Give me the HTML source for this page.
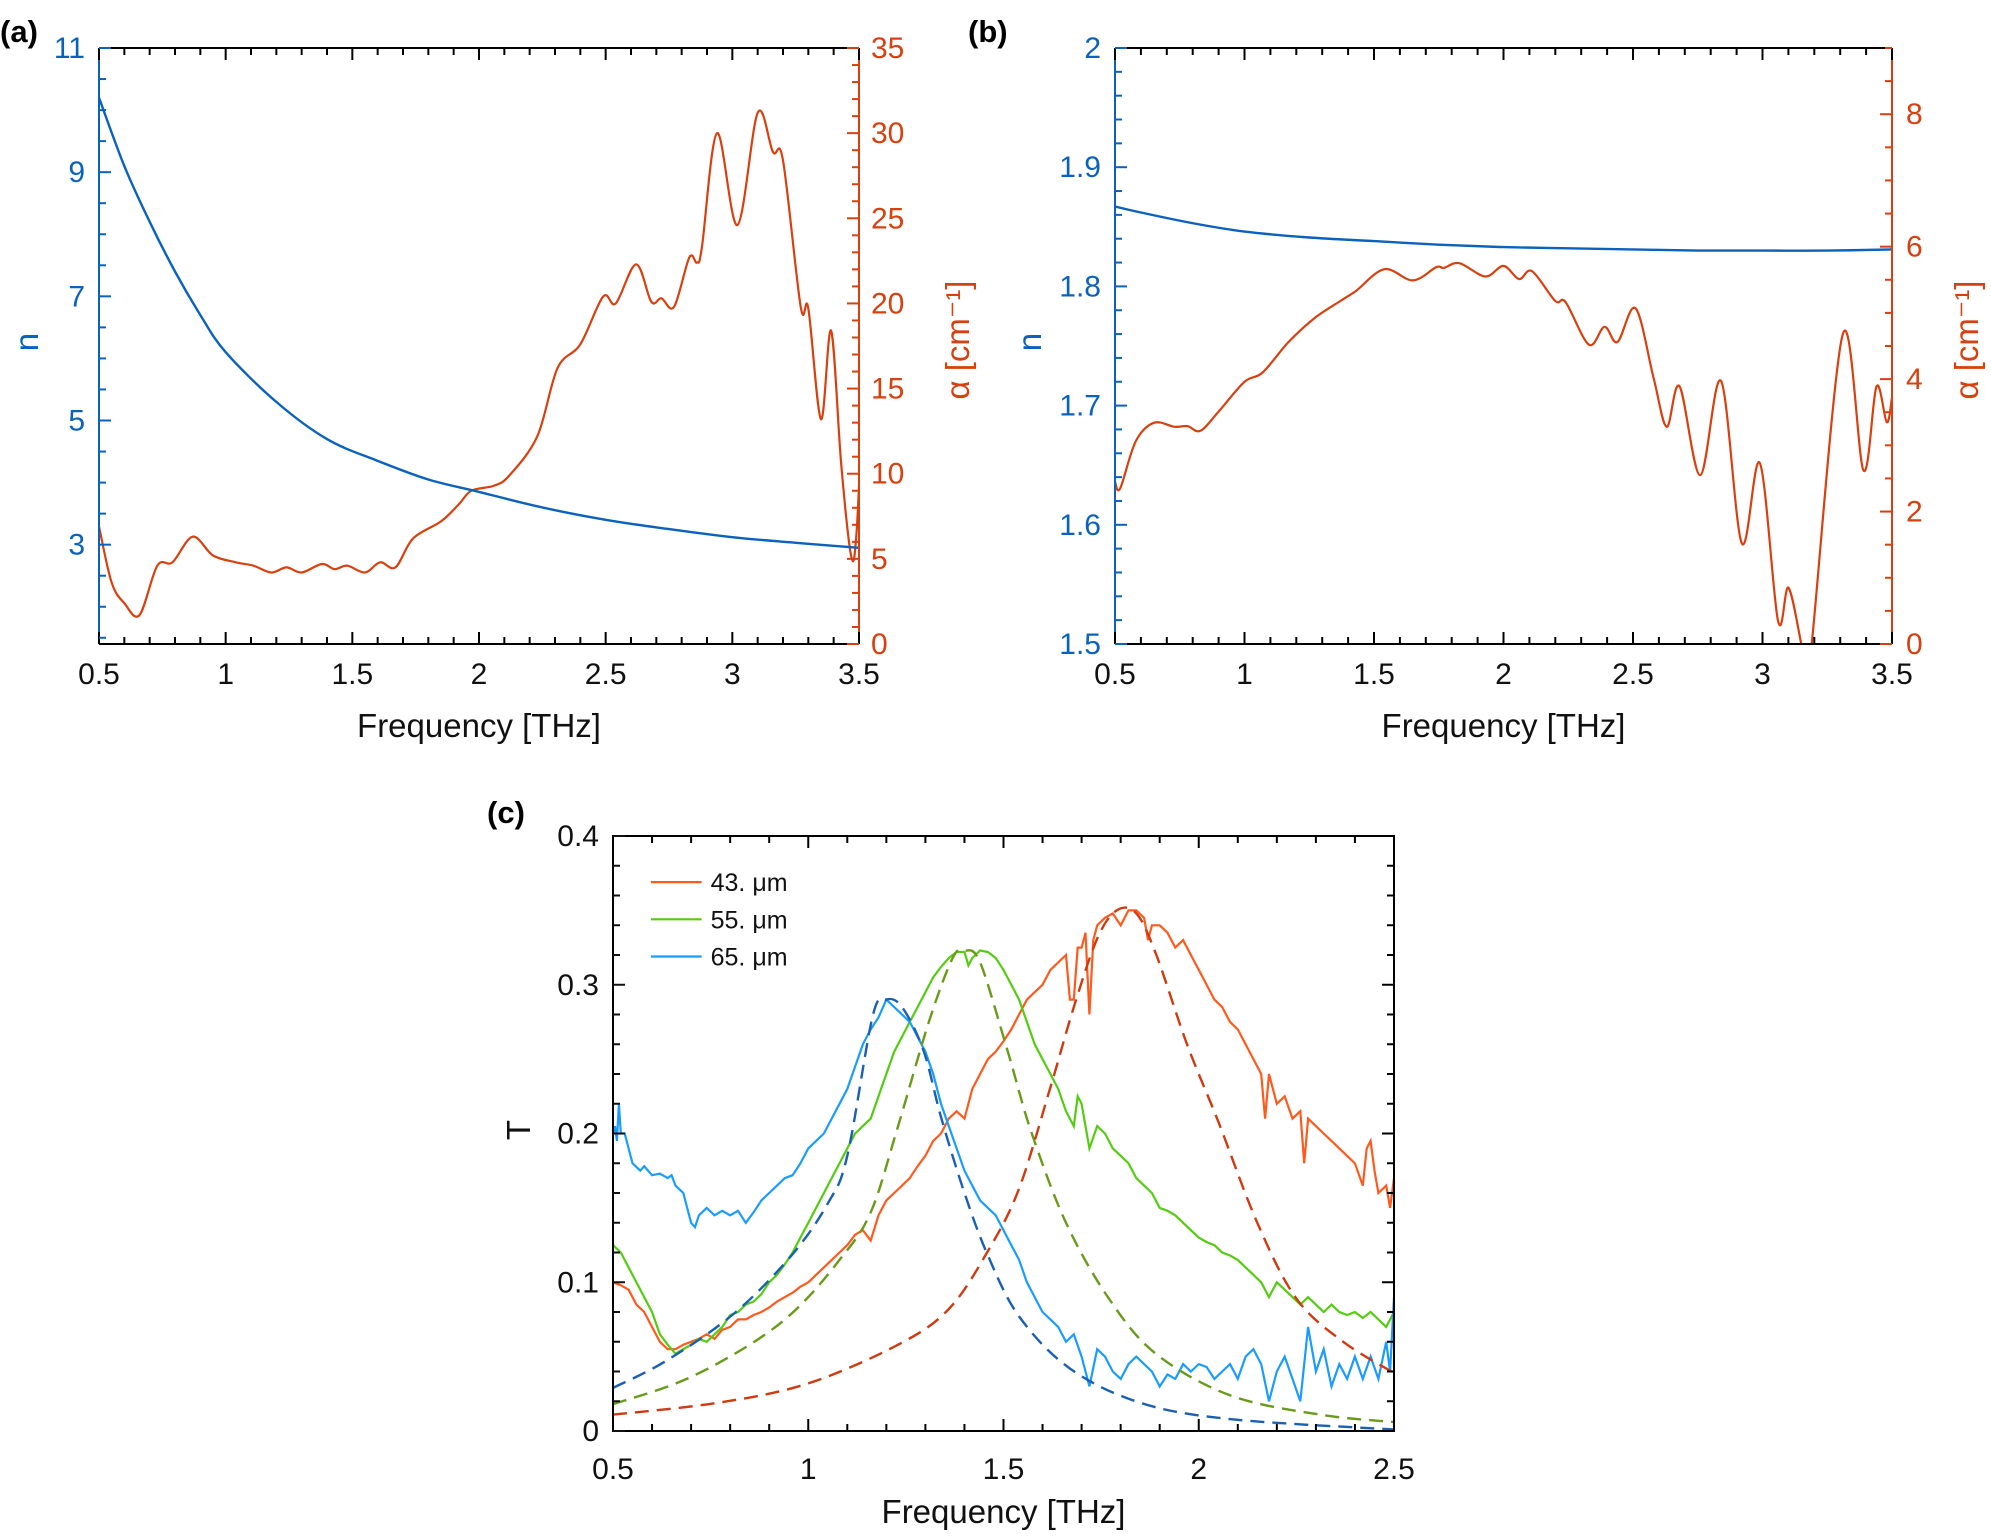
<!DOCTYPE html>
<html><head><meta charset="utf-8"><style>
body{margin:0;background:#fff}
svg text{font-family:"Liberation Sans",sans-serif}
</style></head><body>
<svg id="fig" width="1991" height="1534" viewBox="0 0 1991 1534" xmlns="http://www.w3.org/2000/svg">
<defs>
<clipPath id="clipA"><rect x="99" y="48" width="760" height="596"/></clipPath>
<clipPath id="clipB"><rect x="1115" y="48" width="777" height="596"/></clipPath>
<clipPath id="clipC"><rect x="613" y="836" width="781" height="595"/></clipPath>
</defs>
</svg>
<script>
// ---------- Panel (a) data ----------
const aNFreq=[0.5,0.6,0.7,0.8,0.9,1.0,1.2,1.4,1.6,1.8,2.0,2.25,2.5,2.75,3.0,3.25,3.5];
const aNVal=[10.2,9.1,8.2,7.4,6.7,6.1,5.3,4.7,4.35,4.05,3.85,3.6,3.4,3.25,3.12,3.03,2.95];
const aAFreq=[0.5,0.55,0.6,0.66,0.73,0.79,0.87,0.95,1.04,1.11,1.18,1.24,1.3,1.38,1.43,1.48,1.55,1.61,1.67,1.74,1.85,1.92,1.97,2.06,2.12,2.23,2.31,2.4,2.49,2.54,2.62,2.68,2.72,2.77,2.83,2.86,2.88,2.94,3.02,3.1,3.16,3.2,3.27,3.3,3.35,3.39,3.43,3.47,3.49,3.51];
const aAVal=[6.9,3.6,2.4,1.7,4.6,4.8,6.3,5.2,4.8,4.6,4.2,4.5,4.2,4.7,4.4,4.6,4.2,4.8,4.5,6.2,7.2,8.2,9.0,9.3,9.9,12.2,16.2,17.6,20.4,20.0,22.3,20.1,20.3,19.8,22.7,22.4,23.3,30.0,24.6,31.2,28.9,28.4,19.8,19.7,13.2,18.4,10.5,5.1,6.5,12.7];
const aXTicks=[0.5,1,1.5,2,2.5,3,3.5];
const aNTicks=[3,5,7,9,11];
const aATicks=[0,5,10,15,20,25,30,35];
// ---------- Panel (b) data ----------
const bNFreq=[0.5,0.6,0.8,1.0,1.25,1.5,1.75,2.0,2.25,2.5,2.75,3.0,3.25,3.5];
const bNVal=[1.867,1.862,1.853,1.846,1.841,1.838,1.835,1.833,1.832,1.831,1.830,1.830,1.830,1.831];
const bAFreq=[0.5,0.52,0.58,0.65,0.73,0.78,0.83,0.9,1.0,1.07,1.17,1.27,1.37,1.43,1.54,1.65,1.74,1.77,1.83,1.93,2.0,2.06,2.11,2.2,2.24,2.33,2.39,2.44,2.51,2.58,2.63,2.68,2.76,2.84,2.92,2.99,3.06,3.1,3.15,3.17,3.19,3.31,3.39,3.44,3.48,3.5];
const bAVal=[2.45,2.35,3.06,3.34,3.28,3.29,3.22,3.51,3.96,4.1,4.56,4.92,5.18,5.33,5.66,5.49,5.69,5.68,5.75,5.55,5.71,5.51,5.63,5.18,5.16,4.52,4.79,4.56,5.07,4.01,3.28,3.89,2.55,3.97,1.52,2.73,0.35,0.85,0,-0.4,0,4.68,2.62,3.89,3.35,3.72];
const bXTicks=[0.5,1,1.5,2,2.5,3,3.5];
const bNTicks=[1.5,1.6,1.7,1.8,1.9,2];
const bATicks=[0,2,4,6,8];
// ---------- Panel (c) data ----------
const cBlueF=[0.5,0.505,0.51,0.515,0.52,0.53,0.54,0.55,0.57,0.58,0.6,0.62,0.64,0.65,0.66,0.68,0.69,0.7,0.71,0.72,0.74,0.76,0.78,0.8,0.82,0.84,0.86,0.88,0.9,0.92,0.94,0.96,0.98,1.0,1.02,1.04,1.06,1.08,1.1,1.12,1.14,1.16,1.18,1.2,1.22,1.24,1.26,1.28,1.3,1.32,1.34,1.36,1.38,1.4,1.42,1.44,1.46,1.48,1.5,1.52,1.54,1.56,1.58,1.6,1.62,1.64,1.66,1.68,1.7,1.72,1.74,1.76,1.78,1.8,1.82,1.84,1.86,1.88,1.9,1.92,1.94,1.96,1.98,2.0,2.02,2.04,2.06,2.08,2.1,2.12,2.14,2.16,2.18,2.2,2.22,2.24,2.26,2.28,2.3,2.32,2.34,2.36,2.38,2.4,2.42,2.44,2.46,2.48,2.49,2.5];
const cBlueT=[0.2,0.205,0.195,0.22,0.2,0.2,0.19,0.18,0.175,0.178,0.172,0.173,0.17,0.172,0.165,0.16,0.15,0.14,0.137,0.145,0.15,0.145,0.148,0.145,0.148,0.14,0.147,0.155,0.16,0.165,0.17,0.172,0.18,0.19,0.195,0.2,0.21,0.22,0.23,0.245,0.26,0.27,0.278,0.29,0.285,0.28,0.275,0.265,0.255,0.24,0.22,0.205,0.19,0.175,0.165,0.155,0.15,0.145,0.135,0.125,0.115,0.1,0.09,0.08,0.075,0.07,0.06,0.065,0.05,0.03,0.055,0.05,0.04,0.035,0.045,0.05,0.045,0.04,0.03,0.038,0.035,0.045,0.04,0.045,0.043,0.035,0.04,0.045,0.035,0.05,0.055,0.045,0.02,0.04,0.05,0.035,0.02,0.07,0.04,0.055,0.03,0.045,0.035,0.05,0.035,0.05,0.035,0.06,0.04,0.09];
const cGreenF=[0.5,0.52,0.54,0.56,0.58,0.6,0.62,0.64,0.66,0.68,0.7,0.72,0.74,0.76,0.78,0.8,0.82,0.84,0.86,0.88,0.9,0.92,0.94,0.96,0.98,1.0,1.02,1.04,1.06,1.08,1.1,1.12,1.14,1.16,1.18,1.2,1.22,1.24,1.26,1.28,1.3,1.32,1.34,1.36,1.38,1.4,1.41,1.42,1.44,1.46,1.48,1.5,1.52,1.54,1.56,1.58,1.6,1.62,1.64,1.66,1.68,1.69,1.7,1.72,1.74,1.76,1.78,1.8,1.82,1.84,1.86,1.88,1.9,1.92,1.94,1.96,1.98,2.0,2.02,2.04,2.06,2.08,2.1,2.12,2.14,2.16,2.18,2.2,2.22,2.24,2.26,2.28,2.3,2.32,2.34,2.36,2.38,2.4,2.42,2.44,2.46,2.48,2.5];
const cGreenT=[0.125,0.12,0.11,0.1,0.09,0.08,0.065,0.058,0.052,0.055,0.058,0.062,0.06,0.065,0.07,0.078,0.08,0.085,0.087,0.092,0.1,0.105,0.112,0.12,0.13,0.14,0.15,0.16,0.17,0.18,0.19,0.2,0.205,0.21,0.225,0.24,0.255,0.265,0.275,0.285,0.295,0.305,0.312,0.318,0.322,0.322,0.313,0.318,0.323,0.322,0.318,0.31,0.3,0.29,0.275,0.26,0.25,0.24,0.23,0.215,0.205,0.225,0.22,0.19,0.205,0.2,0.19,0.185,0.18,0.17,0.165,0.16,0.15,0.148,0.145,0.14,0.135,0.13,0.127,0.125,0.12,0.118,0.115,0.11,0.105,0.1,0.09,0.1,0.095,0.09,0.085,0.09,0.085,0.08,0.085,0.08,0.078,0.08,0.076,0.08,0.075,0.07,0.08];
const cRedF=[0.5,0.52,0.54,0.56,0.58,0.6,0.62,0.64,0.66,0.68,0.7,0.72,0.74,0.76,0.78,0.8,0.82,0.84,0.86,0.88,0.9,0.92,0.94,0.96,0.98,1.0,1.02,1.04,1.06,1.08,1.1,1.12,1.14,1.16,1.18,1.2,1.22,1.24,1.26,1.28,1.3,1.32,1.34,1.36,1.38,1.4,1.42,1.44,1.46,1.48,1.5,1.52,1.54,1.56,1.58,1.6,1.62,1.64,1.66,1.67,1.68,1.69,1.7,1.71,1.72,1.73,1.74,1.76,1.78,1.8,1.82,1.84,1.86,1.87,1.88,1.9,1.92,1.94,1.96,1.98,2.0,2.02,2.04,2.06,2.08,2.1,2.12,2.14,2.16,2.17,2.18,2.2,2.22,2.24,2.26,2.27,2.28,2.3,2.32,2.34,2.36,2.38,2.4,2.42,2.43,2.44,2.45,2.46,2.48,2.49,2.5];
const cRedT=[0.1,0.098,0.095,0.085,0.08,0.07,0.06,0.055,0.055,0.058,0.06,0.062,0.065,0.062,0.068,0.07,0.075,0.075,0.078,0.08,0.083,0.087,0.09,0.093,0.097,0.1,0.105,0.11,0.115,0.12,0.125,0.132,0.135,0.128,0.145,0.155,0.16,0.165,0.17,0.178,0.185,0.195,0.2,0.21,0.215,0.21,0.23,0.24,0.25,0.255,0.262,0.27,0.28,0.29,0.295,0.3,0.31,0.315,0.32,0.29,0.29,0.325,0.325,0.335,0.28,0.33,0.34,0.345,0.348,0.34,0.35,0.35,0.345,0.33,0.34,0.34,0.335,0.325,0.33,0.32,0.31,0.3,0.29,0.285,0.275,0.27,0.26,0.25,0.24,0.21,0.24,0.22,0.225,0.21,0.215,0.18,0.21,0.205,0.2,0.195,0.19,0.185,0.18,0.165,0.19,0.195,0.175,0.16,0.165,0.15,0.17];
const cBlueFitF=[0.5,0.635,0.81,0.957,1.05,1.1,1.165,1.2,1.24,1.295,1.34,1.4,1.46,1.54,1.67,1.85,2.08,2.5];
const cBlueFitT=[0.029,0.047,0.079,0.118,0.153,0.185,0.279,0.29,0.285,0.256,0.211,0.16,0.118,0.077,0.042,0.019,0.008,0.001];
const cGreenFitF=[0.5,0.68,0.85,0.97,1.08,1.16,1.23,1.31,1.37,1.4,1.44,1.51,1.57,1.66,1.77,1.89,2.08,2.31,2.5];
const cGreenFitT=[0.018,0.034,0.058,0.082,0.115,0.147,0.205,0.276,0.318,0.323,0.315,0.256,0.202,0.14,0.089,0.052,0.024,0.011,0.006];
const cRedFitF=[0.5,0.77,1.0,1.23,1.36,1.46,1.54,1.62,1.68,1.74,1.79,1.84,1.89,1.97,2.05,2.15,2.25,2.37,2.5];
const cRedFitT=[0.011,0.019,0.032,0.058,0.082,0.121,0.163,0.231,0.285,0.331,0.35,0.348,0.321,0.26,0.208,0.14,0.089,0.06,0.039];
const cXTicks=[0.5,1,1.5,2,2.5];
const cYTicks=[0,0.1,0.2,0.3,0.4];
const cLegend=["43. μm","55. μm","65. μm"];

const svg=document.getElementById('fig');
const NS='http://www.w3.org/2000/svg';
function mk(tag,attrs,parent){const e=document.createElementNS(NS,tag);for(const k in attrs)e.setAttribute(k,attrs[k]);(parent||svg).appendChild(e);return e;}
function lin(d0,d1,r0,r1){return v=>r0+(v-d0)/(d1-d0)*(r1-r0);}
function pathD(xs,ys,sx,sy){return xs.map((x,i)=>(i?'L':'M')+sx(x).toFixed(1)+','+sy(ys[i]).toFixed(1)).join('');}
function smoothD(xs,ys,sx,sy){
  const P=xs.map((x,i)=>[sx(x),sy(ys[i])]);
  let d='M'+P[0][0].toFixed(1)+','+P[0][1].toFixed(1);
  for(let i=0;i<P.length-1;i++){
    const p0=P[i-1]||P[i],p1=P[i],p2=P[i+1],p3=P[i+2]||P[i+1];
    const c1=[p1[0]+(p2[0]-p0[0])/6,p1[1]+(p2[1]-p0[1])/6];
    const c2=[p2[0]-(p3[0]-p1[0])/6,p2[1]-(p3[1]-p1[1])/6];
    d+='C'+c1.map(v=>v.toFixed(1)).join(',')+' '+c2.map(v=>v.toFixed(1)).join(',')+' '+p2[0].toFixed(1)+','+p2[1].toFixed(1);
  }
  return d;
}
function txt(s,x,y,size,fill,anchor,parent){const t=mk('text',{x:x,y:y,'font-size':size,fill:fill,'text-anchor':anchor||'middle'},parent);t.textContent=s;return t;}

function xAxis(g,sx,L,R,T,B,ticks,minorStep,d0,d1,labY){
  for(let v=d0;v<=d1+1e-9;v+=minorStep){const x=sx(v);
    const major=ticks.some(t=>Math.abs(t-v)<1e-6);const len=major?12:7;
    mk('line',{x1:x,y1:B,x2:x,y2:B-len,stroke:'#000','stroke-width':2},g);
    mk('line',{x1:x,y1:T,x2:x,y2:T+len,stroke:'#000','stroke-width':2},g);}
  ticks.forEach(t=>{const l=txt(String(t),sx(t),labY,30,'#111','middle',g);
    
    });
}
function yAxis(g,sy,X,side,ticks,minorStep,d0,d1,color,fmt,labOff){
  const dir=side==='left'?1:-1;
  for(let v=d0;v<=d1+1e-9;v+=minorStep){const y=sy(v);
    const major=ticks.some(t=>Math.abs(t-v)<1e-6);const len=major?12:7;
    mk('line',{x1:X,y1:y,x2:X+dir*len,y2:y,stroke:color,'stroke-width':2},g);}
  ticks.forEach(t=>{const l=txt(fmt(t),X-dir*labOff,sy(t)+10,30,color,side==='left'?'end':'start',g);
    
    });
}

// ---------- Panel a ----------
(function(){
  const L=99,R=859,T=48,B=644;
  const g=mk('g',{});
  
  
  const sx=lin(0.5,3.5,L,R), syN=lin(1.4,11,B,T), syA=lin(0,35,B,T);
  const pa=mk('path',{d:smoothD(aAFreq,aAVal,sx,syA),fill:'none',stroke:'#d9400f','stroke-width':2.2,'clip-path':'url(#clipA)'},g);
  
  
  const pn=mk('path',{d:smoothD(aNFreq,aNVal,sx,syN),fill:'none',stroke:'#0a62bd','stroke-width':2.4,'clip-path':'url(#clipA)'},g);
  
  
  mk('line',{x1:L,y1:T,x2:R,y2:T,stroke:'#000','stroke-width':2},g);
  mk('line',{x1:L,y1:B,x2:R,y2:B,stroke:'#000','stroke-width':2},g);
  mk('line',{x1:L,y1:T,x2:L,y2:B,stroke:'#0a62bd','stroke-width':2},g);
  mk('line',{x1:R,y1:T,x2:R,y2:B,stroke:'#d9400f','stroke-width':2},g);
  xAxis(g,sx,L,R,T,B,aXTicks,0.1,0.5,3.5,684);
  yAxis(g,syN,L,'left',aNTicks,0.5,1.5,11,'#0a62bd',v=>String(v),14);
  yAxis(g,syA,R,'right',aATicks,1,0,35,'#d9400f',v=>String(v),12);
  const xl=txt('Frequency [THz]',(L+R)/2,737,33,'#111','middle',g);
  
  
  const yl=txt('n',28,342,33,'#0a62bd','middle',g);yl.setAttribute('transform','rotate(-90 28 342)');yl.setAttribute('dy','10');
  
  
  const al=txt('α [cm⁻¹]',959,340,33,'#d9400f','middle',g);al.setAttribute('transform','rotate(-90 959 340)');al.setAttribute('dy','10');
  
  
  const pl=mk('text',{x:0,y:42,'font-size':31,'font-weight':'bold',fill:'#000'},g);pl.textContent='(a)';
  
  
})();

// ---------- Panel b ----------
(function(){
  const L=1115,R=1892,T=48,B=644;
  const g=mk('g',{});
  
  
  const sx=lin(0.5,3.5,L,R), syN=lin(1.5,2,B,T), syA=lin(0,9,B,T);
  const pa=mk('path',{d:smoothD(bAFreq,bAVal,sx,syA),fill:'none',stroke:'#d9400f','stroke-width':2.2,'clip-path':'url(#clipB)'},g);
  
  
  const pn=mk('path',{d:smoothD(bNFreq,bNVal,sx,syN),fill:'none',stroke:'#0a62bd','stroke-width':2.4,'clip-path':'url(#clipB)'},g);
  
  
  mk('line',{x1:L,y1:T,x2:R,y2:T,stroke:'#000','stroke-width':2},g);
  mk('line',{x1:L,y1:B,x2:R,y2:B,stroke:'#000','stroke-width':2},g);
  mk('line',{x1:L,y1:T,x2:L,y2:B,stroke:'#0a62bd','stroke-width':2},g);
  mk('line',{x1:R,y1:T,x2:R,y2:B,stroke:'#d9400f','stroke-width':2},g);
  xAxis(g,sx,L,R,T,B,bXTicks,0.1,0.5,3.5,684);
  yAxis(g,syN,L,'left',bNTicks,0.02,1.5,2,'#0a62bd',v=>String(v),14);
  yAxis(g,syA,R,'right',bATicks,0.5,0,9,'#d9400f',v=>String(v),14);
  const xl=txt('Frequency [THz]',(L+R)/2,737,33,'#111','middle',g);
  
  
  const yl=txt('n',1031,342,33,'#0a62bd','middle',g);yl.setAttribute('transform','rotate(-90 1031 342)');yl.setAttribute('dy','10');
  
  
  const al=txt('α [cm⁻¹]',1968,340,33,'#d9400f','middle',g);al.setAttribute('transform','rotate(-90 1968 340)');al.setAttribute('dy','10');
  
  
  const pl=mk('text',{x:968,y:42,'font-size':31,'font-weight':'bold',fill:'#000'},g);pl.textContent='(b)';
  
  
})();

// ---------- Panel c ----------
(function(){
  const L=613,R=1394,T=836,B=1431;
  const g=mk('g',{});
  
  
  const sx=lin(0.5,2.5,L,R), sy=lin(0,0.4,B,T);
  const fits=[[cBlueFitF,cBlueFitT,'#1a5fb4','fit-65um'],[cGreenFitF,cGreenFitT,'#6a9a1a','fit-55um'],[cRedFitF,cRedFitT,'#d03a10','fit-43um']];
  const meas=[[cRedF,cRedT,'#ff5a1e','measured-43um'],[cGreenF,cGreenT,'#55cc11','measured-55um'],[cBlueF,cBlueT,'#1a9cff','measured-65um']];
  meas.forEach(m=>{const p=mk('path',{d:pathD(m[0],m[1],sx,sy),fill:'none',stroke:m[2],'stroke-width':2.2,'clip-path':'url(#clipC)'},g);
    
    });
  fits.forEach(m=>{const p=mk('path',{d:smoothD(m[0],m[1],sx,sy),fill:'none',stroke:m[2],'stroke-width':2.4,'stroke-dasharray':'14 8','clip-path':'url(#clipC)'},g);
    
    });
  mk('rect',{x:L,y:T,width:R-L,height:B-T,fill:'none',stroke:'#000','stroke-width':2},g);
  xAxis(g,sx,L,R,T,B,cXTicks,0.1,0.5,2.5,1479);
  yAxis(g,sy,L,'left',cYTicks,0.02,0,0.4,'#111',v=>String(v),14);
  for(let v=0;v<=0.4+1e-9;v+=0.02){const y=sy(v);const major=cYTicks.some(t=>Math.abs(t-v)<1e-6);
    mk('line',{x1:R,y1:y,x2:R-(major?12:7),y2:y,stroke:'#000','stroke-width':2},g);}
  const legCols=['#ff5a1e','#55cc11','#1a9cff'];
  const legT=[0.369,0.344,0.319];
  cLegend.forEach((s,i)=>{const y=sy(legT[i]);
    const ln=mk('line',{x1:sx(0.597),y1:y,x2:sx(0.727),y2:y,stroke:legCols[i],'stroke-width':2.2},g);
    
    
    const t=txt(s,sx(0.75),y+9,25,'#111','start',g);
    
    });
  const xl=txt('Frequency [THz]',(L+R)/2,1523,33,'#111','middle',g);
  
  
  const yl=txt('T',520,1130,33,'#111','middle',g);yl.setAttribute('transform','rotate(-90 520 1130)');yl.setAttribute('dy','10');
  
  
  const pl=mk('text',{x:487,y:823,'font-size':31,'font-weight':'bold',fill:'#000'},g);pl.textContent='(c)';
  
  
})();
</script>
</body></html>
